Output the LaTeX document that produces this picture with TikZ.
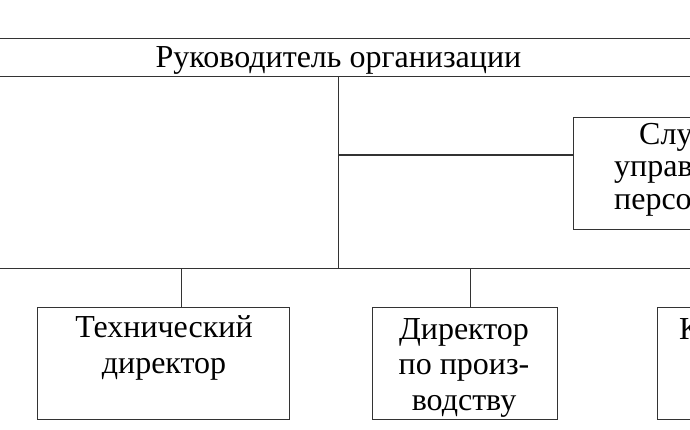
\documentclass[tikz,border=0pt]{standalone}
\usepackage{fontspec}
\setmainfont{Liberation Serif}
\begin{document}
\begin{tikzpicture}[x=1pt,y=-1pt,
  line/.style={draw=black!80,line width=1.1pt},
  box/.style={line,rectangle,inner sep=0pt},
  lbl/.style={font=\fontsize{32}{36}\selectfont,inner sep=0pt,anchor=base,text=black}]
\clip (0,0) rectangle (690,430);
\fill[white] (0,0) rectangle (690,430);
% head box (runs beyond both sides)
\node[box,minimum width=760pt,minimum height=38.4pt] (head) at (338.5,57.5) {};
\node[lbl] (headt) at (338.5,67.3) {Руководитель организации};
% service box (runs beyond right side)
\node[box,minimum width=220pt,minimum height=112pt,anchor=north west] (svc) at (573,117) {};
\node[lbl,anchor=base west] (s1) at (639,145) {Слу};
\node[lbl,anchor=base west] (s2) at (614,177) {управ};
\node[lbl,anchor=base west] (s3) at (614,210) {персо};
% bus
\coordinate (jc) at (338.5,268.5);
\coordinate (jl) at (-20,268.5);
\coordinate (jr) at (710,268.5);
\coordinate (js) at (338.5,155);
\draw[line] (jl) -- (jr);
\draw[line] (head.south -| jc) -- (jc);
\draw[line] (js) -- (js -| svc.west);
% bottom boxes
\node[box,minimum width=252.6pt,minimum height=112.6pt,anchor=north west] (tech) at (36.7,306.7) {};
\node[lbl] (t1) at (164,337) {Технический};
\node[lbl] (t2) at (164,373) {директор};
\node[box,minimum width=185pt,minimum height=112.6pt,anchor=north west] (prod) at (371.7,306.7) {};
\node[lbl] (p1) at (464,339) {Директор};
\node[lbl] (p2) at (464,374) {по произ-};
\node[lbl] (p3) at (464,410) {водству};
\node[box,minimum width=185pt,minimum height=112.6pt,anchor=north west] (comm) at (656.7,306.7) {};
\node[lbl,anchor=base west] (c1) at (679,339) {К};
\coordinate (tj) at (181.7,268.5);
\coordinate (pj) at (470.7,268.5);
\draw[line] (tj) -- (tj |- tech.north);
\draw[line] (pj) -- (pj |- prod.north);
\end{tikzpicture}
\end{document}
